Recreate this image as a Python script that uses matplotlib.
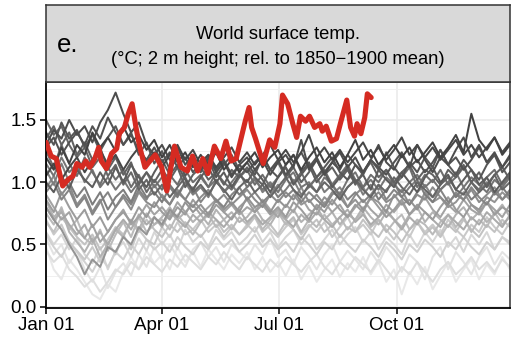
import numpy as np
import matplotlib
matplotlib.use("Agg")
import matplotlib.pyplot as plt

plt.rcParams["font.family"] = ["Liberation Sans", "DejaVu Sans"]

# gray series: one list per earlier year, ~6-day steps from Jan 01 (61 values)
n_pts = 61

s01 = [0.48, 0.30, 0.22, 0.38, 0.30, 0.20, 0.10, 0.06, 0.18, 0.12,
       0.28, 0.40, 0.30, 0.45, 0.35, 0.42, 0.30, 0.48, 0.36, 0.44,
       0.32, 0.46, 0.38, 0.30, 0.42, 0.35, 0.44, 0.30, 0.40, 0.28,
       0.36, 0.25, 0.38, 0.22, 0.33, 0.20, 0.30, 0.38, 0.24, 0.35,
       0.28, 0.40, 0.26, 0.36, 0.20, 0.30, 0.10, 0.28, 0.18, 0.32,
       0.14, 0.25, 0.36, 0.20, 0.30, 0.38, 0.22, 0.34, 0.26, 0.40, 0.30]
s02 = [0.55, 0.42, 0.50, 0.35, 0.45, 0.30, 0.20, 0.32, 0.15, 0.28,
       0.35, 0.25, 0.42, 0.32, 0.48, 0.38, 0.50, 0.40, 0.32, 0.46,
       0.52, 0.40, 0.48, 0.36, 0.50, 0.44, 0.38, 0.50, 0.42, 0.55,
       0.40, 0.46, 0.35, 0.48, 0.40, 0.30, 0.42, 0.50, 0.36, 0.45,
       0.38, 0.30, 0.44, 0.35, 0.48, 0.40, 0.28, 0.42, 0.36, 0.22,
       0.40, 0.48, 0.30, 0.44, 0.36, 0.26, 0.40, 0.48, 0.34, 0.44, 0.38]
s03 = [0.60, 0.50, 0.58, 0.46, 0.55, 0.42, 0.35, 0.48, 0.30, 0.45,
       0.52, 0.40, 0.55, 0.45, 0.60, 0.50, 0.58, 0.46, 0.62, 0.52,
       0.58, 0.48, 0.62, 0.54, 0.60, 0.50, 0.56, 0.64, 0.52, 0.60,
       0.48, 0.56, 0.62, 0.50, 0.58, 0.46, 0.54, 0.62, 0.50, 0.58,
       0.64, 0.52, 0.60, 0.46, 0.56, 0.50, 0.42, 0.58, 0.48, 0.60,
       0.52, 0.62, 0.48, 0.56, 0.44, 0.58, 0.50, 0.60, 0.46, 0.56, 0.52]
s04 = [0.70, 0.58, 0.66, 0.52, 0.45, 0.38, 0.48, 0.36, 0.52, 0.42,
       0.58, 0.46, 0.62, 0.54, 0.50, 0.64, 0.56, 0.68, 0.58, 0.62,
       0.70, 0.60, 0.66, 0.56, 0.64, 0.58, 0.66, 0.60, 0.70, 0.62,
       0.56, 0.64, 0.70, 0.58, 0.66, 0.60, 0.68, 0.56, 0.64, 0.72,
       0.60, 0.66, 0.58, 0.70, 0.62, 0.54, 0.64, 0.56, 0.68, 0.60,
       0.66, 0.58, 0.70, 0.62, 0.56, 0.66, 0.60, 0.72, 0.64, 0.58, 0.68]
s05 = [0.75, 0.66, 0.80, 0.62, 0.70, 0.55, 0.50, 0.62, 0.45, 0.58,
       0.68, 0.56, 0.72, 0.60, 0.66, 0.70, 0.62, 0.74, 0.66, 0.58,
       0.68, 0.74, 0.64, 0.70, 0.62, 0.72, 0.66, 0.74, 0.62, 0.70,
       0.76, 0.66, 0.72, 0.60, 0.70, 0.64, 0.74, 0.66, 0.72, 0.62,
       0.70, 0.76, 0.64, 0.70, 0.60, 0.68, 0.74, 0.62, 0.70, 0.66,
       0.58, 0.68, 0.74, 0.64, 0.72, 0.60, 0.70, 0.64, 0.76, 0.66, 0.72]
s06 = [0.85, 0.72, 0.78, 0.60, 0.52, 0.44, 0.55, 0.40, 0.50, 0.62,
       0.56, 0.70, 0.62, 0.75, 0.66, 0.72, 0.80, 0.70, 0.76, 0.68,
       0.74, 0.66, 0.78, 0.70, 0.76, 0.68, 0.72, 0.80, 0.70, 0.66,
       0.76, 0.70, 0.78, 0.68, 0.74, 0.80, 0.70, 0.76, 0.66, 0.74,
       0.70, 0.80, 0.72, 0.66, 0.76, 0.70, 0.64, 0.74, 0.80, 0.68,
       0.76, 0.70, 0.64, 0.74, 0.80, 0.70, 0.76, 0.68, 0.74, 0.82, 0.72]
s07 = [0.90, 0.80, 0.70, 0.76, 0.62, 0.55, 0.66, 0.52, 0.60, 0.70,
       0.78, 0.66, 0.72, 0.82, 0.74, 0.80, 0.72, 0.84, 0.76, 0.82,
       0.74, 0.80, 0.86, 0.76, 0.82, 0.74, 0.80, 0.76, 0.86, 0.78,
       0.72, 0.82, 0.76, 0.88, 0.78, 0.74, 0.84, 0.76, 0.82, 0.72,
       0.80, 0.86, 0.78, 0.72, 0.82, 0.76, 0.84, 0.74, 0.80, 0.88,
       0.78, 0.72, 0.82, 0.76, 0.86, 0.78, 0.74, 0.84, 0.78, 0.72, 0.82]
s08 = [0.80, 0.70, 0.62, 0.50, 0.40, 0.26, 0.38, 0.32, 0.48, 0.44,
       0.56, 0.50, 0.64, 0.58, 0.72, 0.66, 0.78, 0.72, 0.84, 0.76,
       0.82, 0.74, 0.86, 0.78, 0.84, 0.76, 0.88, 0.80, 0.84, 0.76,
       0.86, 0.80, 0.90, 0.82, 0.86, 0.78, 0.88, 0.82, 0.92, 0.80,
       0.86, 0.78, 0.88, 0.84, 0.76, 0.90, 0.82, 0.86, 0.78, 0.92,
       0.84, 0.88, 0.80, 0.84, 0.92, 0.82, 0.78, 0.88, 0.84, 0.92, 0.86]
s09 = [0.95, 1.05, 0.90, 0.98, 0.82, 0.90, 0.76, 0.86, 0.70, 0.80,
       0.88, 0.78, 0.92, 0.84, 0.80, 0.90, 0.82, 0.94, 0.86, 0.80,
       0.88, 0.94, 0.84, 0.90, 0.82, 0.88, 0.94, 0.86, 0.80, 0.90,
       0.84, 0.92, 0.86, 0.96, 0.84, 0.90, 0.82, 0.92, 0.88, 0.80,
       0.90, 0.96, 0.86, 0.92, 0.84, 0.88, 0.94, 0.82, 0.90, 0.86,
       0.96, 0.88, 0.82, 0.92, 0.86, 0.94, 0.84, 0.90, 0.96, 0.86, 0.92]
s10 = [1.10, 0.98, 1.15, 1.00, 0.88, 0.96, 0.82, 0.92, 0.78, 0.88,
       0.94, 0.84, 0.98, 0.88, 0.92, 0.84, 0.96, 0.88, 1.00, 0.90,
       0.96, 0.88, 1.02, 0.92, 0.98, 0.90, 0.96, 1.04, 0.92, 0.98,
       0.88, 0.94, 1.02, 0.90, 0.96, 1.04, 0.92, 0.98, 0.88, 0.96,
       1.02, 0.90, 0.98, 0.86, 0.94, 1.00, 0.88, 0.96, 1.02, 0.90,
       0.84, 0.94, 1.00, 0.88, 0.96, 0.86, 0.92, 1.00, 0.90, 0.96, 0.88]
s11 = [1.25, 1.12, 1.30, 1.15, 1.05, 1.20, 1.08, 0.98, 1.12, 1.02,
       1.10, 0.96, 1.06, 0.92, 1.02, 0.94, 1.06, 0.98, 1.10, 1.00,
       1.06, 0.96, 1.08, 1.00, 0.94, 1.04, 1.10, 0.98, 1.06, 0.96,
       1.04, 1.12, 1.00, 1.08, 0.96, 1.04, 1.10, 0.98, 1.06, 1.14,
       1.02, 0.96, 1.06, 1.00, 1.10, 0.98, 1.04, 1.12, 0.96, 1.06,
       1.00, 1.10, 0.98, 1.04, 1.12, 1.00, 0.94, 1.04, 1.10, 0.98, 1.06]
s12 = [1.35, 1.45, 1.30, 1.40, 1.22, 1.32, 1.18, 1.28, 1.10, 1.20,
       1.06, 1.16, 0.98, 1.08, 1.00, 1.10, 1.02, 1.12, 0.96, 1.06,
       1.12, 1.02, 1.08, 0.98, 1.10, 1.04, 1.12, 1.04, 0.98, 1.10,
       1.16, 1.04, 1.12, 1.00, 1.08, 1.18, 1.06, 1.12, 1.02, 1.10,
       0.98, 1.08, 1.16, 1.04, 1.10, 1.00, 1.08, 1.14, 1.02, 1.10,
       1.06, 0.98, 1.10, 1.04, 1.14, 1.00, 1.08, 0.96, 1.06, 1.12, 1.02]
s13 = [1.40, 1.30, 1.48, 1.35, 1.42, 1.28, 1.38, 1.25, 1.36, 1.45,
       1.30, 1.40, 1.22, 1.32, 1.15, 1.25, 1.10, 1.20, 1.05, 1.16,
       1.08, 1.18, 1.04, 1.14, 1.22, 1.10, 1.16, 1.06, 1.20, 1.10,
       1.04, 1.14, 1.22, 1.08, 1.16, 1.04, 1.12, 1.20, 1.08, 1.02,
       1.14, 1.06, 1.18, 1.10, 1.24, 1.12, 1.04, 1.16, 1.08, 1.20,
       1.12, 1.26, 1.14, 1.06, 1.18, 1.10, 1.02, 1.14, 1.22, 1.08, 1.16]
s14 = [1.30, 1.42, 1.35, 1.50, 1.38, 1.45, 1.32, 1.48, 1.58, 1.72,
       1.55, 1.40, 1.48, 1.30, 1.22, 1.30, 1.18, 1.28, 1.14, 1.22,
       1.10, 1.20, 1.08, 1.16, 1.04, 1.14, 1.20, 1.10, 1.18, 1.06,
       1.16, 1.22, 1.12, 1.34, 1.10, 1.18, 1.06, 1.16, 1.24, 1.12,
       1.20, 1.08, 1.18, 1.30, 1.16, 1.10, 1.22, 1.12, 1.30, 1.18,
       1.08, 1.20, 1.14, 1.26, 1.36, 1.20, 1.30, 1.16, 1.24, 1.12, 1.22]
s15 = [1.20, 1.10, 1.28, 1.15, 1.30, 1.22, 1.40, 1.28, 1.36, 1.25,
       1.45, 1.32, 1.38, 1.26, 1.34, 1.20, 1.30, 1.16, 1.24, 1.12,
       1.22, 1.14, 1.24, 1.10, 1.18, 1.08, 1.16, 1.24, 1.12, 1.20,
       1.26, 1.14, 1.22, 1.10, 1.20, 1.28, 1.16, 1.24, 1.12, 1.22,
       1.34, 1.18, 1.26, 1.14, 1.22, 1.30, 1.20, 1.28, 1.16, 1.24,
       1.32, 1.20, 1.28, 1.38, 1.24, 1.55, 1.34, 1.26, 1.36, 1.22, 1.30]
s16 = [1.00, 0.92, 1.05, 0.95, 1.10, 1.02, 0.96, 1.08, 0.98, 1.12,
       1.00, 1.14, 1.04, 0.96, 1.08, 1.18, 1.06, 1.14, 1.02, 0.94,
       1.04, 1.12, 1.00, 1.08, 0.96, 1.06, 1.00, 1.10, 1.02, 0.92,
       1.04, 1.12, 0.98, 1.06, 1.14, 1.00, 1.08, 0.96, 1.04, 1.12,
       1.00, 1.06, 0.94, 1.10, 1.02, 0.96, 1.08, 1.00, 0.92, 1.04,
       1.12, 1.00, 1.06, 0.94, 1.02, 1.10, 0.98, 1.04, 0.92, 1.00, 1.08]
s17 = [0.68, 0.60, 0.72, 0.64, 0.56, 0.50, 0.58, 0.46, 0.54, 0.64,
       0.58, 0.68, 0.60, 0.70, 0.62, 0.56, 0.66, 0.60, 0.68, 0.62,
       0.56, 0.64, 0.70, 0.60, 0.66, 0.58, 0.64, 0.72, 0.60, 0.66,
       0.58, 0.68, 0.62, 0.54, 0.64, 0.70, 0.60, 0.66, 0.56, 0.64,
       0.60, 0.70, 0.62, 0.56, 0.66, 0.60, 0.52, 0.62, 0.68, 0.58,
       0.64, 0.56, 0.66, 0.60, 0.70, 0.62, 0.56, 0.66, 0.60, 0.70, 0.64]
s18 = [0.86, 0.76, 0.92, 0.80, 0.70, 0.78, 0.64, 0.72, 0.60, 0.70,
       0.76, 0.68, 0.80, 0.72, 0.84, 0.76, 0.70, 0.80, 0.74, 0.86,
       0.78, 0.72, 0.82, 0.76, 0.70, 0.80, 0.86, 0.76, 0.82, 0.74,
       0.80, 0.72, 0.84, 0.78, 0.70, 0.82, 0.76, 0.86, 0.78, 0.72,
       0.82, 0.76, 0.88, 0.80, 0.72, 0.78, 0.86, 0.74, 0.82, 0.76,
       0.70, 0.80, 0.88, 0.78, 0.72, 0.82, 0.76, 0.84, 0.74, 0.80, 0.76]
s19 = [0.92, 1.00, 0.86, 0.94, 0.80, 0.88, 0.74, 0.84, 0.92, 0.80,
       0.90, 0.82, 0.94, 0.86, 0.98, 0.88, 0.82, 0.92, 0.86, 0.96,
       0.84, 0.92, 0.86, 0.80, 0.90, 0.96, 0.86, 0.92, 0.84, 0.90,
       0.98, 0.88, 0.94, 0.84, 0.92, 0.86, 0.80, 0.90, 0.96, 0.86,
       0.92, 0.84, 0.90, 0.98, 0.86, 0.94, 0.88, 0.82, 0.92, 0.98,
       0.88, 0.94, 0.84, 0.90, 0.86, 0.96, 0.88, 0.82, 0.92, 0.86, 0.94]
s20 = [1.15, 1.05, 1.20, 1.08, 1.14, 1.00, 1.10, 0.96, 1.04, 0.94,
       1.02, 0.92, 1.00, 1.08, 0.96, 1.04, 0.98, 0.90, 1.00, 0.94,
       1.04, 0.96, 1.02, 0.92, 1.00, 1.08, 0.96, 1.02, 0.94, 1.00,
       0.92, 1.02, 1.08, 0.96, 1.00, 0.92, 1.04, 0.98, 0.90, 1.02,
       1.08, 0.96, 1.02, 0.94, 1.04, 0.98, 0.92, 1.00, 1.06, 0.96,
       1.02, 0.94, 1.00, 1.08, 0.96, 1.04, 0.98, 0.92, 1.02, 0.96, 1.04]
s21 = [1.28, 1.36, 1.22, 1.32, 1.40, 1.30, 1.45, 1.35, 1.52, 1.40,
       1.30, 1.38, 1.26, 1.18, 1.28, 1.16, 1.24, 1.12, 1.20, 1.08,
       1.16, 1.22, 1.10, 1.18, 1.06, 1.14, 1.08, 1.16, 1.22, 1.10,
       1.18, 1.06, 1.14, 1.24, 1.12, 1.20, 1.08, 1.16, 1.10, 1.22,
       1.14, 1.08, 1.18, 1.12, 1.06, 1.16, 1.24, 1.12, 1.18, 1.08,
       1.16, 1.26, 1.14, 1.20, 1.10, 1.18, 1.28, 1.16, 1.22, 1.12, 1.20]
s22 = [0.58, 0.48, 0.40, 0.52, 0.44, 0.36, 0.28, 0.40, 0.32, 0.44,
       0.38, 0.50, 0.42, 0.54, 0.46, 0.52, 0.44, 0.56, 0.48, 0.42,
       0.52, 0.46, 0.56, 0.48, 0.54, 0.44, 0.50, 0.58, 0.48, 0.54,
       0.46, 0.52, 0.44, 0.56, 0.50, 0.42, 0.52, 0.46, 0.58, 0.50,
       0.44, 0.54, 0.48, 0.40, 0.52, 0.46, 0.38, 0.50, 0.44, 0.54,
       0.48, 0.40, 0.52, 0.46, 0.56, 0.48, 0.42, 0.52, 0.46, 0.56, 0.50]
s23 = [0.80, 0.70, 0.76, 0.66, 0.58, 0.66, 0.52, 0.60, 0.50, 0.62,
       0.70, 0.62, 0.74, 0.66, 0.72, 0.64, 0.76, 0.70, 0.64, 0.74,
       0.68, 0.76, 0.70, 0.64, 0.72, 0.78, 0.68, 0.74, 0.66, 0.72,
       0.78, 0.70, 0.64, 0.74, 0.68, 0.76, 0.70, 0.64, 0.72, 0.78,
       0.68, 0.74, 0.66, 0.72, 0.78, 0.70, 0.62, 0.72, 0.66, 0.76,
       0.70, 0.64, 0.74, 0.68, 0.62, 0.72, 0.66, 0.76, 0.70, 0.64, 0.74]
s24 = [1.50, 1.38, 1.45, 1.30, 1.20, 1.28, 1.12, 1.20, 1.05, 1.14,
       0.98, 1.08, 0.94, 1.02, 0.90, 0.98, 0.88, 0.96, 1.04, 0.92,
       0.98, 0.90, 1.00, 0.94, 0.86, 0.96, 1.02, 0.92, 0.98, 0.88,
       0.96, 1.04, 0.94, 0.88, 0.98, 0.92, 1.00, 0.94, 0.86, 0.96,
       1.02, 0.94, 0.88, 0.98, 0.92, 1.04, 0.96, 0.90, 1.00, 0.94,
       0.88, 0.98, 1.04, 0.94, 0.90, 1.00, 0.92, 0.98, 1.06, 0.94, 1.00]
s25 = [0.45, 0.36, 0.42, 0.30, 0.24, 0.16, 0.22, 0.12, 0.20, 0.30,
       0.26, 0.36, 0.30, 0.40, 0.34, 0.28, 0.38, 0.32, 0.42, 0.36,
       0.30, 0.40, 0.34, 0.44, 0.36, 0.30, 0.40, 0.34, 0.28, 0.38,
       0.32, 0.40, 0.34, 0.28, 0.36, 0.42, 0.32, 0.26, 0.36, 0.30,
       0.40, 0.34, 0.28, 0.38, 0.30, 0.22, 0.32, 0.26, 0.36, 0.28,
       0.20, 0.30, 0.36, 0.26, 0.32, 0.40, 0.30, 0.36, 0.28, 0.38, 0.32]
s26 = [1.05, 1.15, 1.02, 1.12, 1.20, 1.08, 1.18, 1.26, 1.14, 1.22,
       1.10, 1.20, 1.28, 1.16, 1.24, 1.12, 1.22, 1.30, 1.18, 1.26,
       1.14, 1.22, 1.12, 1.20, 1.28, 1.16, 1.24, 1.14, 1.22, 1.30,
       1.18, 1.26, 1.16, 1.24, 1.38, 1.20, 1.28, 1.18, 1.26, 1.16,
       1.24, 1.32, 1.20, 1.28, 1.18, 1.26, 1.36, 1.22, 1.30, 1.20,
       1.28, 1.18, 1.26, 1.34, 1.22, 1.30, 1.20, 1.28, 1.36, 1.24, 1.32]

# series, gray shade (1 = white); drawn light -> dark
gray_series = [s01, s02, s25, s03, s22, s04, s17, s05, s06, s23, s07, s18,
               s08, s09, s19, s10, s20, s11, s24, s12, s16, s13, s21, s14,
               s26, s15]
gray_levels = [0.91, 0.89, 0.87, 0.84, 0.82, 0.79, 0.76, 0.73, 0.70, 0.67,
               0.64, 0.61, 0.58, 0.55, 0.52, 0.49, 0.46, 0.43, 0.40, 0.38,
               0.36, 0.34, 0.32, 0.30, 0.28, 0.26]

# current year (red), day-of-year and anomaly
red_days = [0, 4, 8, 12, 13, 17, 21, 24, 28, 31, 34, 38, 41, 43, 47, 51,
            55, 57, 61, 64, 67, 70, 73, 77, 80, 85, 90, 94, 100, 105, 110,
            114, 118, 122, 126, 131, 136, 140, 144, 148, 151, 155, 158, 160,
            163, 166, 169, 174, 178, 182, 184, 188, 192, 195, 198, 202, 205,
            209, 213, 215, 218, 222, 226, 229, 234, 237, 240, 242, 245, 248,
            250, 253]
red_vals = [1.32, 1.21, 1.19, 1.01, 0.97, 1.02, 1.05, 1.15, 1.12, 1.17,
            1.12, 1.19, 1.28, 1.17, 1.11, 1.23, 1.27, 1.39, 1.44, 1.55,
            1.63, 1.44, 1.28, 1.12, 1.16, 1.22, 1.12, 0.93, 1.29, 1.12,
            1.09, 1.21, 1.09, 1.19, 1.07, 1.29, 1.19, 1.33, 1.17, 1.19,
            1.32, 1.49, 1.60, 1.44, 1.35, 1.25, 1.15, 1.34, 1.28, 1.47,
            1.70, 1.63, 1.47, 1.36, 1.53, 1.49, 1.53, 1.44, 1.47, 1.41,
            1.45, 1.33, 1.35, 1.47, 1.66, 1.44, 1.37, 1.47, 1.39, 1.52,
            1.71, 1.68]

tick_days = [0, 90, 181, 273]
tick_labels = ["Jan 01", "Apr 01", "Jul 01", "Oct 01"]

W, H = 525, 345
fig = plt.figure(figsize=(W / 100, H / 100), dpi=100)
left, right, bottom, top = 46 / W, 510 / W, 1 - 308 / H, 1 - 82 / H
ax = fig.add_axes([left, bottom, right - left, top - bottom])
strip = fig.add_axes([left, top, right - left, (1 - 5 / H) - top])

days = np.linspace(0, 361, n_pts)
for vals, g in zip(gray_series, gray_levels):
    ax.plot(days, vals, color=str(g), lw=1.45, solid_joinstyle="round", zorder=2)
ax.plot(red_days, red_vals, color="#d52b22", lw=3.7, solid_capstyle="round",
        solid_joinstyle="round", zorder=5)

ax.set_xlim(0, 361)
ax.set_ylim(-0.01, 1.805)
ax.set_xticks(tick_days)
ax.set_xticklabels(tick_labels)
ax.set_yticks([0.0, 0.5, 1.0, 1.5])
ax.set_yticklabels(["0.0", "0.5", "1.0", "1.5"])
ax.set_yticks([0.25, 0.75, 1.25, 1.75], minor=True)
ax.grid(which="major", color="#ebebeb", lw=1.2, zorder=0)
ax.grid(which="minor", axis="y", color="#f0f0f0", lw=0.7, zorder=0)
ax.set_axisbelow(True)
ax.tick_params(which="major", length=4, width=1.1, color="black",
               labelsize=13.5, labelcolor="black", pad=2.5)
ax.tick_params(which="minor", length=0)
for side in ["top", "right"]:
    ax.spines[side].set_color("#333333")
    ax.spines[side].set_linewidth(1.1)
for side in ["left", "bottom"]:
    ax.spines[side].set_color("black")
    ax.spines[side].set_linewidth(1.3)

strip.set_facecolor("#d9d9d9")
strip.set_xticks([])
strip.set_yticks([])
for sp in strip.spines.values():
    sp.set_color("#333333")
    sp.set_linewidth(1.1)
strip.text(0.5, 0.56, "World surface temp.", ha="center", va="baseline",
           fontsize=13.2, transform=strip.transAxes)
strip.text(0.5, 0.235, "(°C; 2 m height; rel. to 1850\u22121900 mean)",
           ha="center", va="baseline", fontsize=13.2, transform=strip.transAxes)
strip.text(0.024, 0.385, "e.", ha="left", va="baseline", fontsize=18.5,
           transform=strip.transAxes)

fig.savefig("out.png", dpi=100)
